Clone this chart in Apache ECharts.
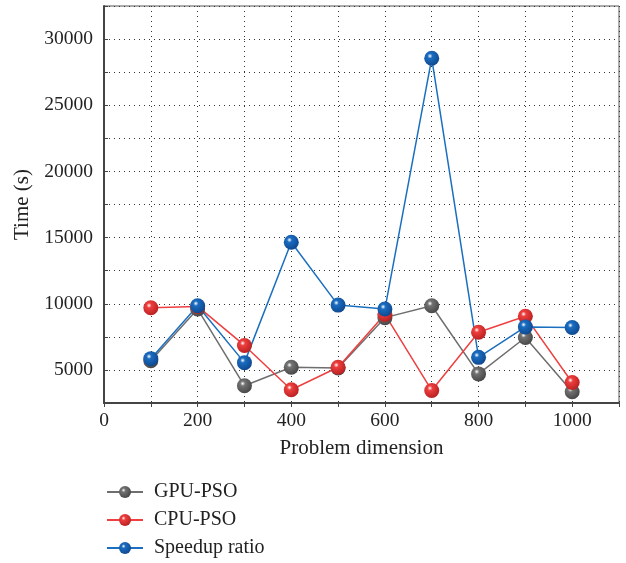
<!DOCTYPE html>
<html><head><meta charset="utf-8">
<script src="https://cdn.jsdelivr.net/npm/echarts@6/dist/echarts.min.js"></script>
<style>html,body{margin:0;padding:0;background:#fff}#c{width:626px;height:563px}</style>
</head><body><div id="c"></div>
<script>
const dims = [100,200,300,400,500,600,700,800,900,1000];
const gpuPso = [5700,9600,3800,5200,5150,8950,9850,4700,7450,3350];
const cpuPso = [9700,9800,6850,3500,5200,9200,3450,7850,9050,4050];
const speedup = [5850,9850,5550,14650,9900,9600,28550,5950,8250,8200];
const seriesNames = ['GPU-PSO','CPU-PSO','Speedup ratio'];
const xAxisName = 'Problem dimension';
const yAxisName = 'Time (s)';

const FONT = '"Liberation Serif", "DejaVu Serif", serif';
function sphere(base, dark){
  return {type:'radial', x:0.38, y:0.35, r:0.75, colorStops:[
    {offset:0, color:'#ffffff'},
    {offset:0.22, color:base},
    {offset:1, color:dark}]};
}
function mk(name, vals, lineColor, base, dark){
  return {
    name, type:'line', data: dims.map((d,i)=>[d, vals[i]]),
    symbol:'circle', symbolSize:15,
    lineStyle:{color:lineColor, width:1.5},
    itemStyle:{color:sphere(base,dark), borderWidth:0},
    emphasis:{disabled:true}
  };
}
const chart = echarts.init(document.getElementById('c'), null, {renderer:'canvas'});
chart.setOption({
  animation:false,
  grid:{left:104, top:6, right:7, bottom:160, show:true, borderColor:'#555', borderWidth:1},
  xAxis:{
    type:'value', min:0, max:1100, interval:100,
    name:xAxisName, nameLocation:'middle', nameGap:35,
    nameTextStyle:{fontFamily:FONT, fontSize:21, color:'#222'},
    axisLine:{show:true, lineStyle:{color:'#444', width:2}},
    axisTick:{show:true, inside:false, length:4, lineStyle:{color:'#444'}},
    axisLabel:{fontFamily:FONT, fontSize:19.5, color:'#222', margin:8,
      formatter:v => (v % 200 === 0 && v <= 1000) ? String(v) : ''},
    splitLine:{show:true, lineStyle:{color:'#333', type:[1,4], width:1}}
  },
  yAxis:{
    type:'value', min:2500, max:32500, interval:2500,
    name:yAxisName, nameLocation:'middle', nameGap:67, nameRotate:90,
    nameTextStyle:{fontFamily:FONT, fontSize:21, color:'#222'},
    axisLine:{show:true, lineStyle:{color:'#444', width:2}},
    axisTick:{show:true, inside:true, length:4, lineStyle:{color:'#444'}},
    axisLabel:{fontFamily:FONT, fontSize:19.5, color:'#222', margin:11,
      formatter:v => (v % 5000 === 0) ? String(v) : ''},
    splitLine:{show:true, lineStyle:{color:'#333', type:[1,4], width:1}}
  },
  legend:{
    orient:'vertical', left:101, top:477, height:85, itemGap:8,
    itemWidth:36, itemHeight:15,
    textStyle:{fontFamily:FONT, fontSize:20, color:'#222', padding:[0,0,0,6]},
    data:seriesNames
  },
  series:[
    mk(seriesNames[0], gpuPso, '#6e6e6e', '#727272', '#404040'),
    mk(seriesNames[1], cpuPso, '#ee4040', '#ee3e3e', '#b01c1c'),
    mk(seriesNames[2], speedup, '#1b6fc0', '#1a6cc0', '#0d4388')
  ]
});
</script></body></html>
